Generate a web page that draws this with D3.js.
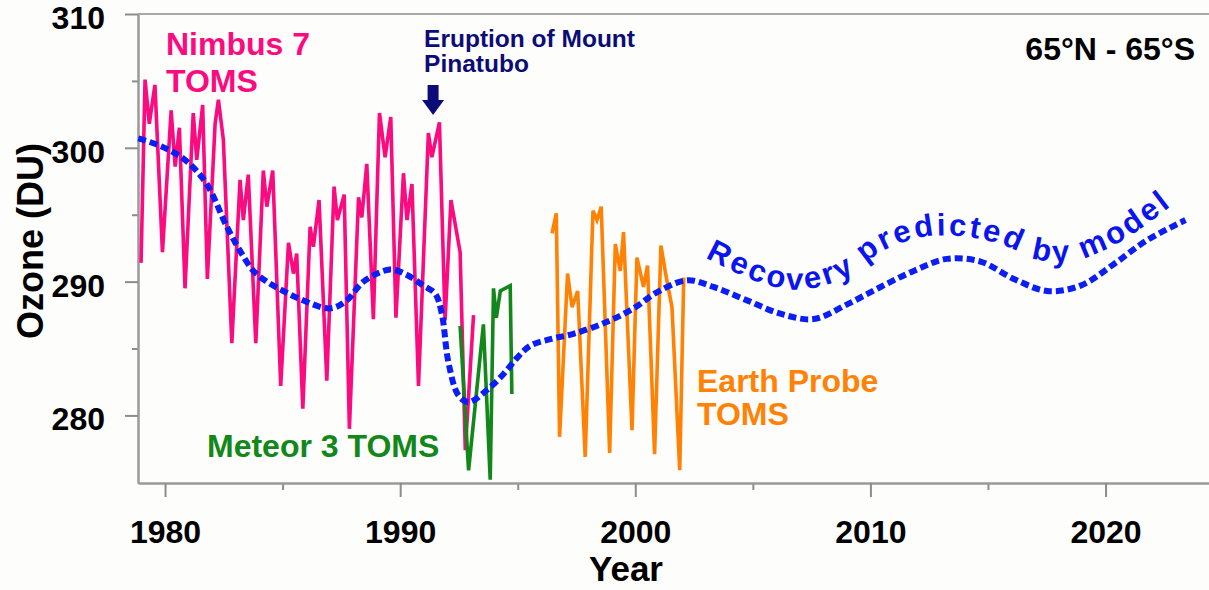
<!DOCTYPE html>
<html>
<head>
<meta charset="utf-8">
<script src="https://cdn.jsdelivr.net/npm/d3@7"></script>
<style>
body { margin: 0; background: #fdfdfb; }
svg { display: block; font-family: "Liberation Sans", Arial, sans-serif; font-weight: bold; }
</style>
</head>
<body>
<svg id="chart"></svg>
<script>
// Nimbus 7 TOMS (pink)
var nimbusYears = [1978.98, 1979.15, 1979.33, 1979.57, 1979.89, 1980.26, 1980.43, 1980.61, 1980.85,
	1981.20, 1981.35, 1981.60, 1981.80, 1982.13, 1982.27, 1982.48, 1982.84, 1983.19, 1983.33, 1983.54,
	1983.86, 1984.18, 1984.33, 1984.58, 1984.92, 1985.25, 1985.46, 1985.60, 1985.86, 1986.17, 1986.31,
	1986.55, 1986.88, 1987.19, 1987.33, 1987.62, 1987.84, 1988.23, 1988.37, 1988.58, 1988.86, 1989.12,
	1989.36, 1989.60, 1989.82, 1990.14, 1990.29, 1990.50, 1990.78, 1991.20, 1991.35, 1991.67, 1991.91,
	1992.16, 1992.55, 1992.77, 1993.12];
var nimbusOzone = [291.4, 305.1, 301.8, 304.7, 292.2, 302.8, 298.6, 301.5, 289.5,
	302.6, 299.1, 303.2, 290.2, 301.8, 303.6, 300.6, 285.4, 297.6, 294.6, 298.0,
	285.4, 298.3, 295.6, 298.3, 282.2, 292.9, 290.6, 292.1, 280.5, 294.1, 292.6,
	296.1, 282.6, 297.1, 294.6, 296.5, 279.0, 296.3, 294.8, 298.8, 287.2, 302.6,
	299.3, 302.3, 287.3, 298.1, 294.6, 297.3, 282.2, 301.1, 299.3, 301.9, 287.1,
	296.1, 292.2, 277.4, 287.5];

// Meteor 3 TOMS (green)
var meteorYears = [1992.55, 1992.91, 1993.54, 1993.83, 1993.97, 1994.09, 1994.26, 1994.68, 1994.75];
var meteorOzone = [286.7, 275.9, 286.8, 275.2, 289.5, 287.3, 289.3, 289.7, 281.6];

// Earth Probe TOMS (orange)
var probeYears = [1996.46, 1996.64, 1996.78, 1997.12, 1997.31, 1997.55, 1997.87, 1998.20, 1998.37,
	1998.55, 1998.91, 1999.15, 1999.36, 1999.50, 1999.86, 2000.07, 2000.35, 2000.52, 2000.82,
	2001.09, 2001.32, 2001.56, 2001.89, 2002.06];
var probeOzone = [293.6, 295.1, 278.4, 290.6, 288.1, 289.3, 276.9, 295.3, 294.6,
	295.6, 277.2, 292.8, 290.8, 293.7, 278.9, 291.8, 289.6, 291.2, 277.1,
	292.7, 290.3, 288.1, 275.9, 290.3];

// model recovery (blue dashed)
var modelYears = [1978.86, 1979.57, 1980.21, 1980.92, 1981.77, 1982.63, 1983.19, 1983.76, 1984.33,
	1985.03, 1985.74, 1987.02, 1987.73, 1988.44, 1989.57, 1990.29, 1990.99, 1991.49, 1991.77,
	1992.06, 1992.48, 1992.91, 1993.69, 1994.40, 1994.97, 1995.53, 1996.38, 1997.37, 1998.80,
	1999.93, 2000.92, 2002.20, 2003.33, 2004.75, 2006.17, 2007.59, 2009.01, 2010.43, 2011.84,
	2013.26, 2014.68, 2016.10, 2017.52, 2018.94, 2020.35, 2021.77, 2023.40];
var modelOzone = [300.7, 300.3, 299.8, 299.0, 297.3, 294.1, 292.3, 290.8, 290.0,
	289.3, 288.7, 288.0, 288.6, 290.0, 290.9, 290.5, 289.7, 289.1, 287.6,
	283.9, 281.5, 281.0, 281.9, 283.1, 284.3, 285.2, 285.7, 286.1, 287.0,
	288.0, 289.2, 290.1, 289.6, 288.6, 287.6, 287.2, 288.3, 289.6, 290.8,
	291.7, 291.5, 290.2, 289.3, 289.7, 291.3, 293.1, 294.6];

// baseline for the curved label
var labelYears = [2002.98, 2005.32, 2007.02, 2008.94, 2010.43, 2012.13, 2013.83, 2015.53, 2017.23, 2018.72, 2020.64, 2022.9];
var labelOzone = [291.8, 289.9, 289.4, 290.3, 292.2, 293.3, 293.4, 292.8, 291.6, 291.6, 293.0, 295.8];

var xTicks = [1980, 1990, 2000, 2010, 2020];
var xMinorTicks = [1985, 1995, 2005, 2015];
var yTicks = [280, 290, 300, 310];
var yMinorTicks = [285, 295, 305];
var pinatuboYear = 1991.4;

var svgWidth = 1209, svgHeight = 590;
var svg = d3.select('#chart')
	.attr("width", svgWidth)
	.attr("height", svgHeight);

var x = d3.scaleLinear().domain([1978.85, 2024.4]).range([138, 1209]);
var y = d3.scaleLinear().domain([274.95, 310]).range([483, 14]);

// top frame line
svg.append("line")
	.attr("x1", x.range()[0]).attr("x2", x.range()[1])
	.attr("y1", y(310)).attr("y2", y(310))
	.attr("stroke", "#a8a8a8").attr("stroke-width", 2);

function styleAxis(g, size) {
	g.select(".domain").attr("stroke", "#9a9a9a").attr("stroke-width", 2);
	g.selectAll(".tick line").attr("stroke", "#8c8c8c").attr("stroke-width", 2);
	g.selectAll("text").attr("fill", "#000").style("font-size", size + "px").style("font-weight", "bold")
		.style("font-family", '"Liberation Sans", Arial, sans-serif');
}

var xMinor = svg.append("g").attr("transform", "translate(0," + y.range()[0] + ")")
	.call(d3.axisBottom(x).tickValues(xMinorTicks).tickSize(7).tickSizeOuter(0).tickFormat(""));
styleAxis(xMinor, 32);
var xAxis = svg.append("g").attr("transform", "translate(0," + y.range()[0] + ")")
	.call(d3.axisBottom(x).tickValues(xTicks).tickSize(14).tickSizeOuter(0).tickPadding(23).tickFormat(d3.format("d")));
styleAxis(xAxis, 32);

var yMinor = svg.append("g").attr("transform", "translate(" + x.range()[0] + ",0)")
	.call(d3.axisLeft(y).tickValues(yMinorTicks).tickSize(6).tickSizeOuter(0).tickFormat(""));
styleAxis(yMinor, 32);
var yAxis = svg.append("g").attr("transform", "translate(" + x.range()[0] + ",0)")
	.call(d3.axisLeft(y).tickValues(yTicks).tickSize(13).tickSizeOuter(0).tickPadding(20).tickFormat(d3.format("d")));
styleAxis(yAxis, 32);
yAxis.selectAll("text").attr("dy", "0.45em");

function pairs(xs, ys) {
	return xs.map(function(d, i) { return [d, ys[i]]; });
}

var line = d3.line()
	.x(function(d) { return x(d[0]); })
	.y(function(d) { return y(d[1]); });

var series = [
	{data: pairs(nimbusYears, nimbusOzone), color: "#fb0a80"},
	{data: pairs(meteorYears, meteorOzone), color: "#12871a"},
	{data: pairs(probeYears, probeOzone), color: "#ff8205"}
];
series.forEach(function(s) {
	svg.append("path")
		.attr("d", line(s.data))
		.attr("fill", "none")
		.attr("stroke", s.color)
		.attr("stroke-width", 3.6)
		.attr("stroke-linejoin", "miter")
		.attr("stroke-miterlimit", 3);
});

// model curve
var smooth = d3.line()
	.x(function(d) { return x(d[0]); })
	.y(function(d) { return y(d[1]); })
	.curve(d3.curveCatmullRom.alpha(0.5));

svg.append("path")
	.attr("d", smooth(pairs(modelYears, modelOzone)))
	.attr("fill", "none")
	.attr("stroke", "#0a1ef5")
	.attr("stroke-width", 6)
	.attr("stroke-dasharray", "8,4");

// curved label
svg.append("path")
	.attr("id", "labelPath")
	.attr("d", smooth(pairs(labelYears, labelOzone)))
	.attr("fill", "none");
var pathLen = document.getElementById("labelPath").getTotalLength();
svg.append("text")
	.style("font-size", "31px")
	.attr("fill", "#0a14f0")
	.append("textPath")
	.attr("href", "#labelPath")
	.attr("textLength", pathLen - 4)
	.attr("lengthAdjust", "spacing")
	.text("Recovery predicted by model");

// labels
function label(txt, px, py, size, color, anchor) {
	svg.append("text")
		.attr("x", px).attr("y", py)
		.attr("fill", color)
		.attr("text-anchor", anchor || "start")
		.style("font-size", size + "px")
		.text(txt);
}
label("Nimbus 7", 166, 55, 32, "#fb0a80");
label("TOMS", 166, 92, 32, "#fb0a80");
label("Meteor 3 TOMS", 207, 457, 32, "#12871a");
label("Earth Probe", 697, 392, 32, "#ff8205");
label("TOMS", 697, 425, 32, "#ff8205");
label("65°N - 65°S", 1195, 60, 32, "#000", "end");
label("Eruption of Mount", x(pinatuboYear) - 9, 47, 24.5, "#0c0c78");
label("Pinatubo", x(pinatuboYear) - 9, 72, 24.5, "#0c0c78");
label("Year", 626, 581, 35, "#000", "middle");

svg.append("text")
	.attr("transform", "translate(43,241) rotate(-90)")
	.attr("text-anchor", "middle")
	.style("font-size", "36px")
	.attr("fill", "#000")
	.text("Ozone (DU)");

// Pinatubo arrow
var ax = x(pinatuboYear);
svg.append("path")
	.attr("d", "M" + (ax - 5.5) + ",85 h11 v15 h5.5 l-11,15 l-11,-15 h5.5 z")
	.attr("fill", "#0c0c78");
</script>
</body>
</html>
